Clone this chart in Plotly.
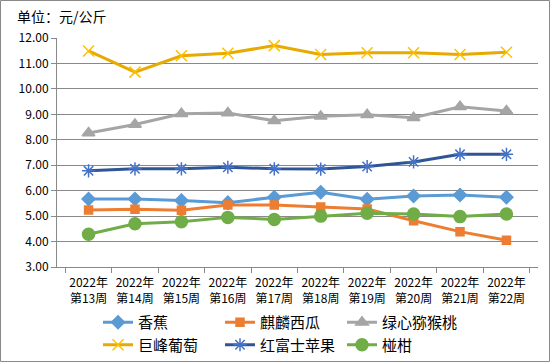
import plotly.graph_objects as go

weeks = ["2022年<br>第13周", "2022年<br>第14周", "2022年<br>第15周", "2022年<br>第16周", "2022年<br>第17周",
         "2022年<br>第18周", "2022年<br>第19周", "2022年<br>第20周", "2022年<br>第21周", "2022年<br>第22周"]
banana = [5.67, 5.67, 5.61, 5.53, 5.74, 5.94, 5.66, 5.79, 5.83, 5.74]
watermelon = [5.24, 5.27, 5.23, 5.44, 5.44, 5.36, 5.28, 4.82, 4.39, 4.05]
kiwi = [8.27, 8.60, 9.02, 9.05, 8.75, 8.92, 8.98, 8.87, 9.30, 9.13]
grape = [11.49, 10.66, 11.30, 11.40, 11.70, 11.35, 11.42, 11.42, 11.35, 11.44]
fuji = [6.78, 6.86, 6.86, 6.92, 6.86, 6.85, 6.95, 7.13, 7.43, 7.43]
orange = [4.29, 4.70, 4.78, 4.95, 4.87, 5.00, 5.11, 5.08, 4.98, 5.08]

series = [
    ("香蕉", banana, "#5B9BD5", "#5B9BD5", "diamond", 10),
    ("麒麟西瓜", watermelon, "#ED7D31", "#ED7D31", "square", 8),
    ("绿心猕猴桃", kiwi, "#A5A5A5", "#A5A5A5", "triangle-up", 11),
    ("巨峰葡萄", grape, "#E6AA00", "#FFC000", "x-thin-open", 11),
    ("红富士苹果", fuji, "#2F5597", "#4472C4", "asterisk-open", 11),
    ("椪柑", orange, "#70AD47", "#70AD47", "circle", 12),
]

fig = go.Figure()
for name, vals, lc, mc, sym, sz in series:
    fig.add_trace(go.Scatter(
        x=weeks, y=vals, name=name, mode="lines+markers",
        line=dict(color=lc, width=3),
        marker=dict(symbol=sym, size=sz, color=mc, line=dict(color=mc, width=1.5)),
    ))

W, H = 550, 362
l, r, t, b = 57, 12, 38, 95
pw, ph = W - l - r, H - t - b

fig.update_layout(
    width=W, height=H,
    margin=dict(l=l, r=r, t=t, b=b, autoexpand=False),
    paper_bgcolor="white", plot_bgcolor="white",
    font=dict(family="Noto Sans CJK SC", color="#000000", size=12),
    showlegend=True,
    legend=dict(orientation="h", x=(98 - l) / pw, xanchor="left", y=-(306 - H + b) / ph,
                yanchor="top", entrywidth=77, font=dict(size=15), tracegroupgap=0,
                itemwidth=30, bgcolor="rgba(0,0,0,0)"),
    xaxis=dict(type="category", showline=True, linecolor="#898989", linewidth=1,
               ticks="outside", tickson="boundaries", ticklen=5, tickcolor="#898989",
               showgrid=False, tickfont=dict(size=12), tickangle=0, automargin=False,
               ticklabelstandoff=5),
    yaxis=dict(range=[3, 12], dtick=1, tickformat=".2f", showline=True, linecolor="#898989",
               ticks="outside", ticklen=5, tickcolor="#898989", automargin=False,
               gridcolor="#898989", gridwidth=1, zeroline=False, tickfont=dict(size=12)),
    annotations=[dict(text="单位：元/公斤", xref="paper", yref="paper",
                      x=-(l - 15) / pw, y=1 + (t - 16) / ph, xanchor="left", yanchor="middle",
                      showarrow=False, font=dict(size=14))],
    shapes=[dict(type="rect", xref="paper", yref="paper",
                 x0=-(l - 0.5) / pw, x1=1 + (r - 0.5) / pw,
                 y0=-(b - 0.5) / ph, y1=1 + (t - 0.5) / ph,
                 line=dict(color="#898989", width=1), layer="below")],
)

fig.write_html("out.html", config={"displayModeBar": False},
               post_script="document.body.style.margin='0';document.body.style.overflow='hidden';")
